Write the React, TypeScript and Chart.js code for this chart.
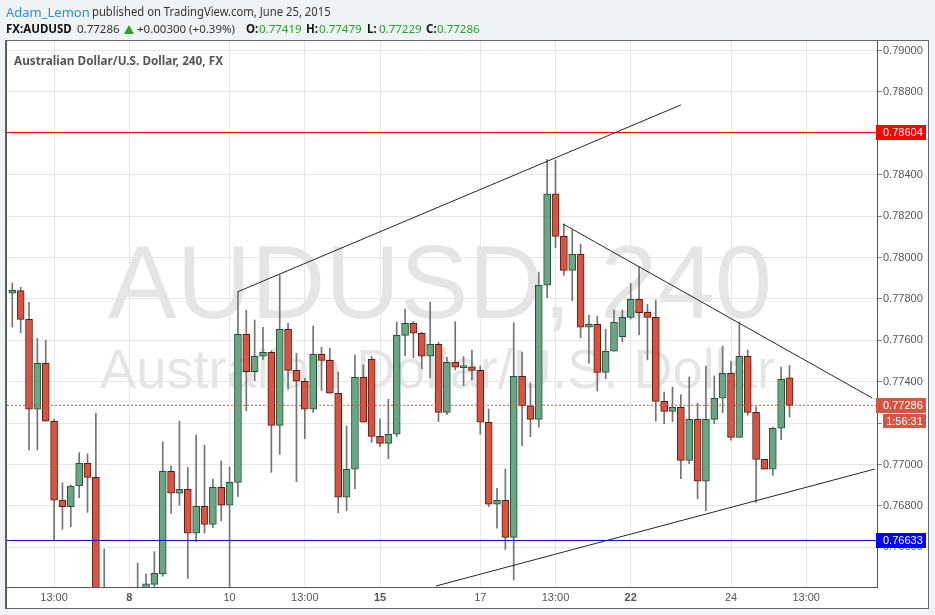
import React, { useEffect, useRef } from "react";
import { Chart, registerables } from "chart.js";

Chart.register(...registerables);

// ---- Data (AUDUSD, 240 min candles) ----
const opens = [
  0.77828, 0.7784, 0.77701, 0.77267, 0.77489, 0.77209, 0.76828, 0.76796, 0.76896, 0.77006,
  0.76938, 0.7631, 0.7638, 0.7633, 0.7636, 0.7634, 0.7638, 0.76421, 0.76471, 0.76967,
  0.76861, 0.7688, 0.76668, 0.76798, 0.76711, 0.7689, 0.76803, 0.76914, 0.77629, 0.77448,
  0.77523, 0.77542, 0.77189, 0.77653, 0.77455, 0.77402, 0.77267, 0.77532, 0.77503, 0.77344,
  0.76842, 0.76977, 0.77421, 0.77508, 0.77136, 0.77102, 0.77146, 0.77624, 0.77682, 0.77634,
  0.77523, 0.77581, 0.77252, 0.77495, 0.77468, 0.77472, 0.77455, 0.77204, 0.76808, 0.76827,
  0.76648, 0.77426, 0.77284, 0.77218, 0.77866, 0.78307, 0.78102, 0.77938, 0.78015, 0.77663,
  0.77677, 0.77445, 0.77547, 0.77617, 0.77711, 0.77798, 0.77735, 0.77711, 0.77305, 0.77257,
  0.77276, 0.7702, 0.77218, 0.76919, 0.77218, 0.7732, 0.77441, 0.77131, 0.77523, 0.77252,
  0.77025, 0.76977, 0.77175, 0.77419,
];
const highs = [
  0.77877, 0.77856, 0.77784, 0.7761, 0.776, 0.7722, 0.76912, 0.76901, 0.77057, 0.77051,
  0.77247, 0.76592, 0.764, 0.76395, 0.7639, 0.76524, 0.76471, 0.76579, 0.77109, 0.76993,
  0.7721, 0.76986, 0.77142, 0.77094, 0.7693, 0.77017, 0.76988, 0.77835, 0.77746, 0.77698,
  0.77663, 0.7755, 0.77915, 0.77682, 0.77537, 0.77416, 0.77669, 0.77566, 0.77561, 0.77447,
  0.77186, 0.77529, 0.77481, 0.77523, 0.7722, 0.77315, 0.77688, 0.77751, 0.7769, 0.77639,
  0.77785, 0.7759, 0.77518, 0.7769, 0.77521, 0.77553, 0.77476, 0.77268, 0.76885, 0.76978,
  0.77684, 0.77543, 0.77395, 0.7793, 0.78474, 0.78471, 0.78162, 0.78133, 0.78064, 0.77722,
  0.77717, 0.77653, 0.77746, 0.77746, 0.77875, 0.77954, 0.77774, 0.77795, 0.7735, 0.77374,
  0.77336, 0.77423, 0.77296, 0.77476, 0.77428, 0.77572, 0.775, 0.77688, 0.77553, 0.77279,
  0.77025, 0.7718, 0.77471, 0.77479,
];
const lows = [
  0.77664, 0.77637, 0.7707, 0.7707, 0.77209, 0.76632, 0.76687, 0.76699, 0.7684, 0.76769,
  0.7625, 0.7626, 0.7628, 0.763, 0.7631, 0.7632, 0.7635, 0.76405, 0.7646, 0.76764,
  0.76804, 0.7645, 0.76627, 0.76668, 0.76695, 0.76728, 0.7635, 0.76844, 0.7726, 0.77405,
  0.77508, 0.76962, 0.77049, 0.77363, 0.76917, 0.77125, 0.77252, 0.77357, 0.77344, 0.76767,
  0.76777, 0.76883, 0.77204, 0.77107, 0.77086, 0.77028, 0.77134, 0.77526, 0.77516, 0.77463,
  0.77419, 0.77207, 0.77241, 0.77457, 0.77381, 0.77408, 0.77146, 0.76796, 0.76692, 0.7659,
  0.76442, 0.77091, 0.77134, 0.7718, 0.77806, 0.78047, 0.77915, 0.77791, 0.77613, 0.77489,
  0.77355, 0.77414, 0.77547, 0.77593, 0.77703, 0.77626, 0.77505, 0.7721, 0.77197, 0.77207,
  0.76931, 0.77004, 0.76835, 0.76777, 0.77197, 0.7725, 0.77117, 0.77131, 0.77238, 0.76817,
  0.76977, 0.76948, 0.7712, 0.77229,
];
const closes = [
  0.77842, 0.77701, 0.77267, 0.77489, 0.77209, 0.76828, 0.76796, 0.76896, 0.77006, 0.76938,
  0.763, 0.7638, 0.7633, 0.7636, 0.7634, 0.7638, 0.76423, 0.76474, 0.76967, 0.76861,
  0.7688, 0.76668, 0.76798, 0.76711, 0.7689, 0.76803, 0.76914, 0.77629, 0.77448, 0.77523,
  0.77542, 0.77189, 0.77653, 0.77455, 0.77402, 0.77267, 0.77532, 0.77503, 0.77344, 0.76842,
  0.76977, 0.77421, 0.77204, 0.77136, 0.77102, 0.77146, 0.77624, 0.77682, 0.77634, 0.77523,
  0.77581, 0.77252, 0.77494, 0.7747, 0.77474, 0.77455, 0.77204, 0.76808, 0.76827, 0.76648,
  0.77426, 0.77284, 0.77218, 0.77866, 0.78307, 0.78102, 0.77938, 0.78015, 0.77663, 0.77677,
  0.77445, 0.77547, 0.77687, 0.77711, 0.77798, 0.77734, 0.77711, 0.77305, 0.77257, 0.77276,
  0.7702, 0.77218, 0.76919, 0.77218, 0.7732, 0.77441, 0.77131, 0.77523, 0.77252, 0.77025,
  0.76977, 0.77175, 0.77412, 0.77286,
];

const xTickIndex = [5, 14, 26, 35, 44, 56, 65, 74, 86, 95];
const xTickLabels = ["13:00", "8", "10", "13:00", "15", "17", "13:00", "22", "24", "13:00"];
const boldXLabels = ["8", "15", "22"];
const yTicks = [0.766, 0.768, 0.77, 0.772, 0.774, 0.776, 0.778, 0.78, 0.782, 0.784, 0.786, 0.788, 0.79];

const resistanceLevel = 0.78604;
const supportLevel = 0.76633;
const lastPrice = 0.77286;
const countdownText = "1:56:31";

const upperTrendX = [27, 80];
const upperTrendY = [0.77835, 0.78737];
const fallingTrendX = [65.9, 102.9];
const fallingTrendY = [0.78162, 0.77321];
const risingTrendX = [50.7, 103.2];
const risingTrendY = [0.76413, 0.76978];

const xRange = [-0.634, 103.47];
const yRange = [0.764082, 0.790459];

const chartTitle = "Australian Dollar/U.S. Dollar, 240, FX";
const watermarkSymbol = "AUDUSD, 240";
const watermarkName = "Australian Dollar/U.S. Dollar";

// ---- Styles ----
const GREEN_FILL = "#6ba583";
const GREEN_BORDER = "#225437";
const RED_FILL = "#d75442";
const RED_BORDER = "#5b1a13";
const WICK = "#737375";
const AXIS_FONT = '"Liberation Sans", Arial, sans-serif';

const overlayPlugin = {
  id: "tvOverlay",
  beforeDraw(chart: any) {
    const { ctx, chartArea: a } = chart;
    ctx.save();
    ctx.fillStyle = "#f0f3f6";
    ctx.fillRect(0, 0, chart.width, chart.height);
    ctx.fillStyle = "#ffffff";
    ctx.fillRect(6, 41, 922, 567);
    ctx.beginPath();
    ctx.rect(a.left, a.top, a.right - a.left, a.bottom - a.top);
    ctx.clip();
    ctx.fillStyle = "rgba(0,0,0,0.1)";
    ctx.textAlign = "center";
    ctx.textBaseline = "alphabetic";
    ctx.font = `103px ${AXIS_FONT}`;
    ctx.fillText(watermarkSymbol, 440, 318, 668);
    ctx.font = `56px ${AXIS_FONT}`;
    ctx.fillText(watermarkName, 437.5, 388, 675);
    ctx.restore();
  },
  afterDraw(chart: any) {
    const { ctx } = chart;
    const y = chart.scales.y;
    ctx.save();
    // title
    ctx.fillStyle = "#555555";
    ctx.font = 'bold 12px "Noto Sans", sans-serif';
    ctx.textAlign = "left";
    ctx.textBaseline = "alphabetic";
    ctx.fillText(chartTitle, 14, 65, 209);
    // frame
    ctx.strokeStyle = "#666666";
    ctx.lineWidth = 1;
    ctx.strokeRect(5.5, 40.5, 923, 568);
    ctx.strokeStyle = "#555555";
    ctx.beginPath();
    ctx.moveTo(6.5, 41);
    ctx.lineTo(6.5, 608);
    ctx.stroke();

    const box = (value: number, color: string, text: string) => {
      const py = Math.round(y.getPixelForValue(value));
      ctx.fillStyle = color;
      ctx.fillRect(876, py - 7, 50, 15);
      ctx.fillStyle = "#ffffff";
      ctx.font = `11px ${AXIS_FONT}`;
      ctx.textAlign = "left";
      ctx.textBaseline = "middle";
      ctx.fillText(text, 883, py + 1);
    };
    box(resistanceLevel, "#ff0000", resistanceLevel.toFixed(5));
    box(lastPrice, RED_FILL, lastPrice.toFixed(5));
    box(supportLevel, "#0000ff", supportLevel.toFixed(5));
    const lp = Math.round(y.getPixelForValue(lastPrice));
    ctx.fillStyle = RED_FILL;
    ctx.fillRect(883, lp + 9, 43, 14);
    ctx.fillStyle = "#ffffff";
    ctx.textAlign = "center";
    ctx.fillText(countdownText, 904.5, lp + 16.5);
    ctx.restore();
  },
};

export default function App() {
  const ref = useRef<HTMLCanvasElement>(null);

  useEffect(() => {
    const canvas = ref.current!;
    const idx = opens.map((_, i) => i);
    const up = idx.map((i) => closes[i] >= opens[i]);
    const segment = (xs: number[], ys: number[]) => xs.map((x, i) => ({ x, y: ys[i] }));
    const level = (v: number) => [
      { x: xRange[0], y: v },
      { x: xRange[1], y: v },
    ];
    const lineBase = { type: "line" as const, pointRadius: 0, tension: 0, fill: false, order: 1 };

    const chart = new Chart(canvas, {
      type: "bar",
      data: {
        datasets: [
          {
            type: "bar",
            label: "wicks",
            data: idx.map((i) => ({ x: i, y: [lows[i], highs[i]] })) as any,
            backgroundColor: WICK,
            borderWidth: 0,
            barThickness: 1,
            grouped: false,
            order: 3,
          },
          {
            type: "bar",
            label: "bodies",
            data: idx.map((i) => ({ x: i, y: [opens[i], closes[i]] })) as any,
            backgroundColor: idx.map((i) => (up[i] ? GREEN_FILL : RED_FILL)),
            borderColor: idx.map((i) => (up[i] ? GREEN_BORDER : RED_BORDER)),
            borderWidth: 1,
            borderSkipped: false,
            barThickness: 7,
            minBarLength: 2,
            grouped: false,
            order: 2,
          },
          { ...lineBase, label: "upper", data: segment(upperTrendX, upperTrendY), borderColor: "#262626", borderWidth: 1 } as any,
          { ...lineBase, label: "falling", data: segment(fallingTrendX, fallingTrendY), borderColor: "#262626", borderWidth: 1 } as any,
          { ...lineBase, label: "rising", data: segment(risingTrendX, risingTrendY), borderColor: "#262626", borderWidth: 1 } as any,
          { ...lineBase, label: "resistance", data: level(resistanceLevel), borderColor: "#ff0000", borderWidth: 1 } as any,
          { ...lineBase, label: "support", data: level(supportLevel), borderColor: "#0000ee", borderWidth: 1 } as any,
          { ...lineBase, label: "last", data: level(lastPrice), borderColor: RED_FILL, borderWidth: 1, borderDash: [2, 2] } as any,
        ],
      },
      options: {
        animation: false,
        responsive: false,
        maintainAspectRatio: false,
        devicePixelRatio: 1,
        events: [],
        layout: { padding: { left: 7, top: 41, right: 0, bottom: 0 } },
        plugins: { legend: { display: false }, tooltip: { enabled: false }, title: { display: false } },
        scales: {
          x: {
            type: "linear",
            min: xRange[0],
            max: xRange[1],
            offset: false,
            afterBuildTicks: (scale: any) => {
              scale.ticks = xTickIndex.map((v) => ({ value: v }));
            },
            afterFit: (scale: any) => {
              scale.height = 28;
            },
            grid: { color: "#e6e6e6", drawTicks: false, offset: false },
            border: { color: "#555555" },
            ticks: {
              autoSkip: false,
              maxRotation: 0,
              padding: 4,
              color: "#555555",
              font: (ctx: any) => ({
                family: AXIS_FONT,
                size: 11,
                weight: boldXLabels.includes(xTickLabels[ctx.index]) ? "bold" : "normal",
              }),
              callback: (_v: any, i: number) => xTickLabels[i],
            },
          },
          y: {
            type: "linear",
            position: "right",
            min: yRange[0],
            max: yRange[1],
            afterBuildTicks: (scale: any) => {
              scale.ticks = yTicks.map((v) => ({ value: v }));
            },
            afterFit: (scale: any) => {
              scale.width = 58;
            },
            grid: { color: "#e6e6e6", tickLength: 5, tickColor: "#888888" },
            border: { color: "#555555" },
            ticks: {
              padding: 1,
              color: "#555555",
              font: { family: AXIS_FONT, size: 11 },
              callback: (v: any) => Number(v).toFixed(5),
            },
          },
        },
      } as any,
      plugins: [overlayPlugin],
    });
    return () => chart.destroy();
  }, []);

  const base: React.CSSProperties = {
    position: "absolute",
    whiteSpace: "nowrap",
    fontFamily: '"Noto Sans", sans-serif',
    lineHeight: "14px",
    margin: 0,
  };
  const green = "#25a22a";
  return (
    <div style={{ position: "fixed", left: 0, top: 0, width: 935, height: 615, overflow: "hidden", background: "#f0f3f6" }}>
      <canvas ref={ref} width={935} height={615} style={{ position: "absolute", left: 0, top: 0, width: 935, height: 615 }} />
      <span style={{ ...base, left: 6, top: 5, fontSize: 13, color: "#2c8fce" }}>Adam_Lemon</span>
      <span style={{ ...base, left: 92, top: 5, fontSize: 12.5, color: "#333", transform: "scaleX(0.9)", transformOrigin: "left" }}>
        published on TradingView.com, June 25, 2015
      </span>
      <span style={{ ...base, left: 6, top: 22, fontSize: 11.5, fontWeight: "bold", color: "#111" }}>FX:AUDUSD</span>
      <span style={{ ...base, left: 77, top: 22, fontSize: 11.5, color: "#333" }}>0.77286</span>
      <span
        style={{
          position: "absolute",
          left: 123.5,
          top: 25,
          width: 0,
          height: 0,
          borderLeft: "5px solid transparent",
          borderRight: "5px solid transparent",
          borderBottom: "9px solid #27a127",
        }}
      />
      <span style={{ ...base, left: 137, top: 22, fontSize: 11.5, color: "#333" }}>+0.00300 (+0.39%)</span>
      <span style={{ ...base, left: 246, top: 22, fontSize: 11.5, fontWeight: "bold", color: "#111" }}>O:</span>
      <span style={{ ...base, left: 259, top: 22, fontSize: 11.5, color: green }}>0.77419</span>
      <span style={{ ...base, left: 306, top: 22, fontSize: 11.5, fontWeight: "bold", color: "#111" }}>H:</span>
      <span style={{ ...base, left: 319, top: 22, fontSize: 11.5, color: green }}>0.77479</span>
      <span style={{ ...base, left: 367, top: 22, fontSize: 11.5, fontWeight: "bold", color: "#111" }}>L:</span>
      <span style={{ ...base, left: 379, top: 22, fontSize: 11.5, color: green }}>0.77229</span>
      <span style={{ ...base, left: 426, top: 22, fontSize: 11.5, fontWeight: "bold", color: "#111" }}>C:</span>
      <span style={{ ...base, left: 437, top: 22, fontSize: 11.5, color: green }}>0.77286</span>
    </div>
  );
}
